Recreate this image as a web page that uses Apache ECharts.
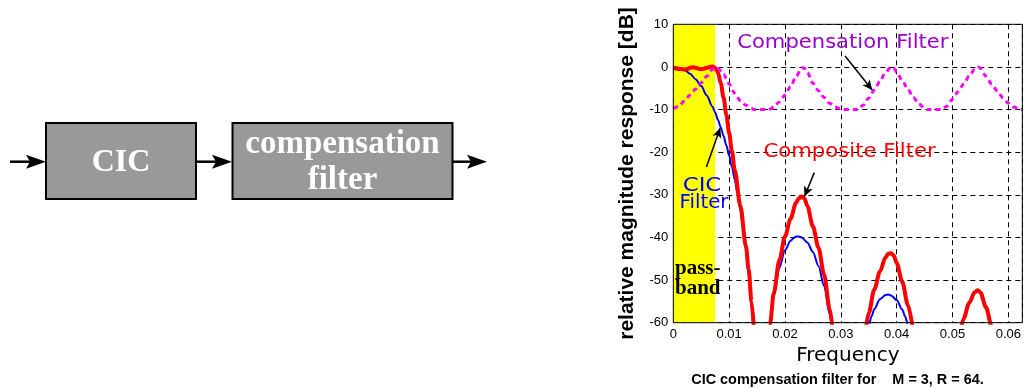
<!DOCTYPE html>
<html><head><meta charset="utf-8">
<script src="https://cdn.jsdelivr.net/npm/echarts@6/dist/echarts.min.js"></script>
<style>html,body{margin:0;padding:0;background:#fff}#c{width:1024px;height:388px}</style>
</head><body><div id="c"></div>
<script>
// ---- data (frequency, dB); null = curve below -60 dB (gap)
const cicFreq = [0,0.001,0.002,0.003,0.004,0.005,0.006,0.007,0.0075,0.008,0.0085,0.009,0.0095,0.010,0.0105,0.011,0.0115,0.012,0.0125,0.013,0.0135,0.014,0.0145,
  0.0156,
  0.017,0.0175,0.018,0.019,0.020,0.021,0.0215,0.022,0.0225,0.023,0.024,0.025,0.026,0.027,0.028,0.0285,
  0.031,
  0.034,0.035,0.0355,0.036,0.037,0.038,0.0385,0.039,0.040,0.041,0.0415,0.042,0.043];
const cicDb = [0,-0.2,-0.7,-1.6,-2.9,-4.5,-6.7,-9.3,-10.7,-12.4,-14.2,-16.2,-18.4,-20.8,-23.5,-26.4,-29.8,-33.5,-37.9,-42.9,-49.0,-56.6,-66.8,
  null,
  -65.9,-58.8,-53.8,-47.1,-43.0,-40.8,-40.2,-39.8,-39.8,-40.0,-41.2,-43.4,-46.7,-51.4,-58.0,-62.3,
  null,
  -66.8,-60.7,-58.5,-56.8,-54.5,-53.5,-53.4,-53.6,-54.7,-56.9,-58.5,-60.4,-65.3];

const compFreq = [0,0.001,0.002,0.003,0.004,0.005,0.006,0.007,0.0075,0.008,0.009,0.010,0.011,0.012,0.013,0.014,0.0145,0.017,0.0175,0.018,0.019,0.020,0.021,0.022,0.023,0.0235,0.024,0.025,0.026,0.027,0.028,0.029,0.030,0.0305,0.033,0.034,0.035,0.036,0.037,0.038,0.039,0.0395,0.040,0.041,0.042,0.043,0.044,0.045,0.0455,0.048,0.049,0.050,0.051,0.052,0.053,0.054,0.0546,0.055,0.056,0.057,0.058,0.059,0.060,0.061,0.062,0.0625];
const compDb = [-9.8,-9.2,-8.0,-6.6,-5.2,-3.7,-2.2,-0.6,0,-0.3,-1.8,-4.0,-6.2,-7.9,-9.0,-9.7,-10,-10,-9.8,-9.3,-8.2,-6.6,-4.6,-2.2,-0.2,-0.3,-1.3,-3.8,-5.6,-7.2,-8.5,-9.4,-9.9,-10,-10,-9.0,-7.3,-5.4,-3.4,-1.3,0,-0.3,-1.2,-3.2,-5.2,-7.2,-8.7,-9.7,-10,-10,-9.2,-7.5,-5.8,-4.0,-2.1,-0.5,0,-0.3,-2.2,-4.0,-5.6,-7.2,-8.5,-9.4,-9.9,-10];

const compositeFreq = [0,0.0005,0.001,0.0015,0.002,0.0025,0.003,0.0035,0.004,0.0045,0.005,0.0055,0.006,0.0065,0.007,0.0075,0.008,0.0085,0.009,0.0095,0.010,0.0105,0.011,0.012,0.013,0.0135,0.014,0.0145,
  0.0156,
  0.017,0.0173,0.018,0.019,0.020,0.021,0.022,0.0225,0.023,0.0235,0.024,0.025,0.026,0.027,0.028,0.0285,
  0.031,
  0.0345,0.035,0.036,0.037,0.038,0.0385,0.039,0.0395,0.040,0.041,0.042,0.043,
  0.047,
  0.0515,0.052,0.053,0.054,0.0545,0.055,0.056,0.057,0.0575];
const compositeDb = [-0.2,-0.4,-0.5,-0.5,-0.6,-0.5,-0.2,-0.1,-0.2,-0.4,-0.5,-0.4,-0.2,0,0.1,-0.2,-1.3,-3.8,-7.2,-11.2,-15.5,-19.8,-24.2,-32.5,-42.0,-47.5,-55.0,-62.5,
  null,
  -64,-60.5,-53.0,-45.3,-39.8,-35.6,-31.8,-30.8,-30.4,-30.9,-32.6,-37.4,-42.4,-48.7,-56.6,-61.5,
  null,
  -61.3,-57.7,-52.2,-48.0,-44.7,-43.8,-43.7,-44.3,-46.0,-50.4,-55.8,-62.5,
  null,
  -61.6,-59.0,-55.3,-52.8,-52.4,-52.9,-56.4,-60.8,-63];

const passbandEdge = 0.0075;
const xTickValues = [0,0.01,0.02,0.03,0.04,0.05,0.06];
const yTickValues = [10,0,-10,-20,-30,-40,-50,-60];

const zip = (f, d) => f.map((x, i) => [x, d[i] === null ? '-' : d[i]]);

const chart = echarts.init(document.getElementById('c'), null, {renderer: 'canvas'});
const SANS = '"Liberation Sans", Arial, sans-serif';
const WIDE = '"DejaVu Sans", sans-serif';
const SERIF = '"Liberation Serif", "Times New Roman", serif';

const option = {
  animation: false,
  backgroundColor: '#fff',
  grid: {left: 673.3, top: 24.3, bottom: 65.3, right: -4.3, show: true, borderColor: '#000', borderWidth: 1, backgroundColor: 'transparent', z: 5},
  xAxis: {
    type: 'value', min: 0, max: 0.0625, interval: 0.01,
    name: 'Frequency', nameLocation: 'middle', nameGap: 19,
    nameTextStyle: {fontFamily: WIDE, fontSize: 20, color: '#000'},
    axisLine: {show: false}, axisTick: {show: false},
    axisLabel: {color: '#000', fontFamily: SANS, fontSize: 13, margin: 5, showMaxLabel: false,
      formatter: v => { const t = xTickValues.find(x => Math.abs(x - v) < 1e-9); return t === undefined ? '' : (t === 0 ? '0' : t.toFixed(2)); }},
    splitLine: {show: true, lineStyle: {color: '#000', width: 1, type: [5, 4]}}
  },
  yAxis: {
    type: 'value', min: -60, max: 10, interval: 10,
    name: 'relative magnitude response [dB]', nameLocation: 'middle', nameGap: 36, nameRotate: 90,
    nameTextStyle: {fontFamily: SANS, fontSize: 21, fontWeight: 'bold', color: '#000'},
    axisLine: {show: false}, axisTick: {show: false},
    axisLabel: {color: '#000', fontFamily: SANS, fontSize: 13, margin: 5,
      formatter: v => yTickValues.includes(v) ? String(v) : ''},
    splitLine: {show: true, lineStyle: {color: '#000', width: 1, type: [5, 4]}}
  },
  series: [
    {
      name: 'CIC Filter', type: 'line', data: zip(cicFreq, cicDb), showSymbol: false, symbol: 'none',
      smooth: 0.3, smoothMonotone: 'x', clip: true, connectNulls: false,
      lineStyle: {color: '#0000ff', width: 2}, z: 3
    },
    {
      name: 'Compensation Filter', type: 'line', data: zip(compFreq, compDb), showSymbol: false, symbol: 'none',
      smooth: 0.3, smoothMonotone: 'x', clip: true,
      lineStyle: {color: '#ff00ff', width: 3, type: [5, 4]}, z: 4,
      markLine: {
        silent: true, symbol: ['none', 'arrow'], symbolSize: [7, 10], label: {show: false},
        lineStyle: {color: '#000', width: 1.5, type: 'solid'},
        data: [
          [{coord: [0.03076, 2.56]}, {coord: [0.03563, -5.42]}],
          [{coord: [0.02525, -24.8]}, {coord: [0.02349, -30.4]}],
          [{coord: [0.00593, -23.5]}, {coord: [0.0084, -14.3]}]
        ]
      }
    },
    {
      name: 'Composite Filter', type: 'line', data: zip(compositeFreq, compositeDb), showSymbol: false, symbol: 'none',
      smooth: 0.3, smoothMonotone: 'x', clip: true, connectNulls: false,
      lineStyle: {color: '#ff0000', width: 4}, z: 3,
      markArea: {silent: true, itemStyle: {color: '#ffff00'}, data: [[{xAxis: 0}, {xAxis: passbandEdge}]]}
    }
  ]
};
chart.setOption(option);

const P = (f, v) => chart.convertToPixel({gridIndex: 0}, [f, v]);
function txt(text, pos, font, fill, align, valign, sx) {
  return {type: 'text', z: 20, silent: true, x: pos[0], y: pos[1], scaleX: sx || 1,
    style: {text, x: 0, y: 0, font, fill, textAlign: align, align, textVerticalAlign: valign, verticalAlign: valign}};
}
function arrow(x1, x2, y) {
  return [
    {type: 'line', silent: true, shape: {x1, y1: y, x2: x2 - 16, y2: y}, style: {stroke: '#000', lineWidth: 2.5}},
    {type: 'polygon', silent: true, shape: {points: [[x2 - 20, y - 7], [x2, y], [x2 - 20, y + 7], [x2 - 16, y]]}, style: {fill: '#000'}}
  ];
}
const g = [];
// block diagram
g.push({type: 'rect', silent: true, shape: {x: 46, y: 123, width: 150, height: 76}, style: {fill: '#999999', stroke: '#000', lineWidth: 2}});
g.push({type: 'rect', silent: true, shape: {x: 232.5, y: 123, width: 220, height: 76}, style: {fill: '#999999', stroke: '#000', lineWidth: 2}});
g.push(...arrow(10, 46, 161.7), ...arrow(196, 232, 161.7), ...arrow(452.5, 487, 161.7));
g.push(txt('CIC', [121, 163], 'bold 32px ' + SERIF, '#fff', 'center', 'middle'));
g.push(txt('compensation', [342.5, 144], 'bold 33px ' + SERIF, '#fff', 'center', 'middle'));
g.push(txt('filter', [342.5, 180], 'bold 33px ' + SERIF, '#fff', 'center', 'middle'));
// chart annotations (placed in data coordinates)
g.push(txt('Compensation Filter', P(0.01144, 5.6), '20px ' + WIDE, '#9900cc', 'left', 'middle', 1.055));
g.push(txt('Composite Filter', P(0.01614, -19.9), '20px ' + WIDE, '#ff0000', 'left', 'middle', 1.06));
g.push(txt('CIC', P(0.00514, -28.0), '19px ' + WIDE, '#0000ff', 'center', 'middle', 1.2));
g.push(txt('Filter', P(0.00549, -31.9), '19px ' + WIDE, '#0000ff', 'center', 'middle', 1.04));
g.push(txt('pass-', P(0.0003, -47.2), 'bold 21px ' + SERIF, '#000', 'left', 'middle'));
g.push(txt('band', P(0.0003, -51.9), 'bold 21px ' + SERIF, '#000', 'left', 'middle'));
// caption
g.push(txt('CIC compensation filter for    M = 3, R = 64.', [837.5, 380], 'bold 14px ' + SANS, '#000', 'center', 'middle', 1.03));
chart.setOption({graphic: g});
</script></body></html>
